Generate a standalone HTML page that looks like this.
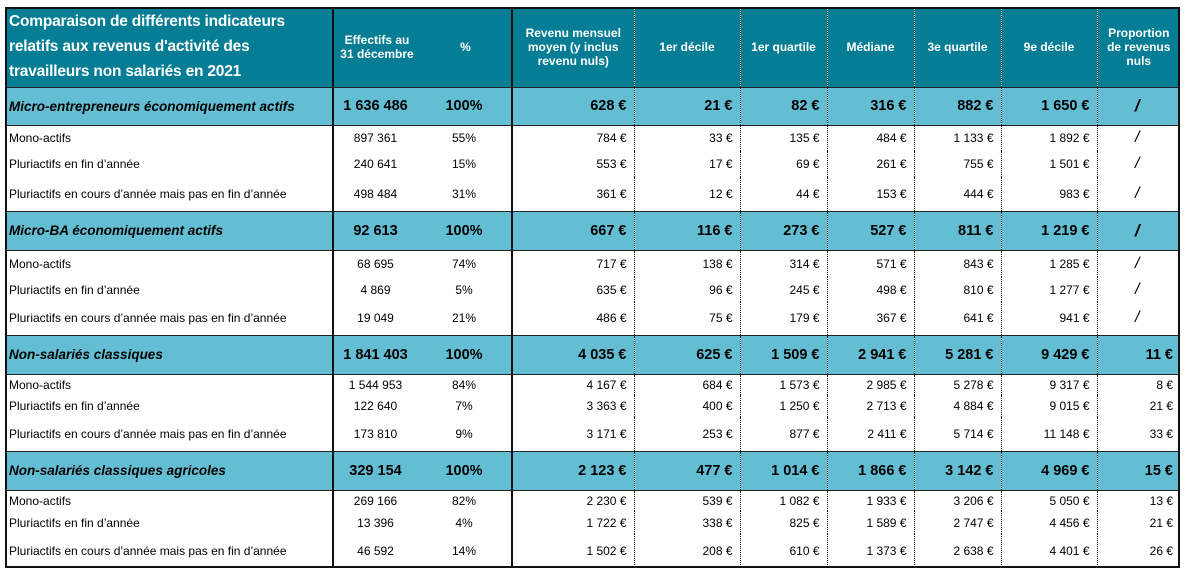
<!DOCTYPE html>
<html><head><meta charset="utf-8">
<style>
html,body{margin:0;padding:0;background:#fff;width:1186px;height:570px;overflow:hidden}
table{position:absolute;left:5px;top:7px;border-collapse:collapse;table-layout:fixed;width:1175px;font-family:"Liberation Sans",Arial,sans-serif;color:#000}
td{padding:0 7px 0 4px;font-size:12px;white-space:nowrap;overflow:hidden}
td.c{text-align:center}
td.r{text-align:right}
td.s{font-size:16px;font-style:italic}
.b1{border-right:2px solid #111}
.d{border-right:1px dotted #111}
tr.h td{background:#047d95;color:#fff;font-weight:bold;font-size:12px;line-height:14px;text-align:center;white-space:normal;padding:0 3px}
tr.h td.t{text-align:left;font-size:15.5px;line-height:25px;padding-left:4px;letter-spacing:-0.2px}
tr.g td{background:#64bed3;font-weight:bold;font-size:14.5px;border-top:1.5px solid #222;border-bottom:1.5px solid #222}
tr.g td.l{font-style:italic;font-size:13.5px}
tr.g td.s{font-size:17px}
</style></head><body>
<table>
<colgroup><col style="width:328px"><col style="width:87px"><col style="width:92px"><col style="width:122px"><col style="width:106px"><col style="width:87px"><col style="width:87px"><col style="width:87px"><col style="width:96px"><col style="width:83px"></colgroup>
<tr class="h" style="height:80px"><td class="t b1">Comparaison de différents indicateurs relatifs aux revenus d'activité des travailleurs non salariés en 2021</td><td>Effectifs au 31 décembre</td><td class="b1">%</td><td class="d">Revenu mensuel moyen (y inclus revenu nuls)</td><td class="d">1er décile</td><td class="d">1er quartile</td><td class="d">Médiane</td><td class="d">3e quartile</td><td class="d">9e décile</td><td>Proportion de revenus nuls</td></tr>

<tr class="g" style="height:38px"><td class="l b1">Micro-entrepreneurs économiquement actifs</td><td class="c">1 636 486</td><td class="c b1">100%</td><td class="r d">628 €</td><td class="r d">21 €</td><td class="r d">82 €</td><td class="r d">316 €</td><td class="r d">882 €</td><td class="r d">1 650 €</td><td class="c s">/</td></tr>
<tr style="height:26px"><td class="b1">Mono-actifs</td><td class="c">897 361</td><td class="c b1">55%</td><td class="r d">784 €</td><td class="r d">33 €</td><td class="r d">135 €</td><td class="r d">484 €</td><td class="r d">1 133 €</td><td class="r d">1 892 €</td><td class="c s">/</td></tr>
<tr style="height:26px"><td class="b1">Pluriactifs en fin d’année</td><td class="c">240 641</td><td class="c b1">15%</td><td class="r d">553 €</td><td class="r d">17 €</td><td class="r d">69 €</td><td class="r d">261 €</td><td class="r d">755 €</td><td class="r d">1 501 €</td><td class="c s">/</td></tr>
<tr style="height:34px"><td class="b1">Pluriactifs en cours d’année mais pas en fin d’année</td><td class="c">498 484</td><td class="c b1">31%</td><td class="r d">361 €</td><td class="r d">12 €</td><td class="r d">44 €</td><td class="r d">153 €</td><td class="r d">444 €</td><td class="r d">983 €</td><td class="c s">/</td></tr>

<tr class="g" style="height:39px"><td class="l b1">Micro-BA économiquement actifs</td><td class="c">92 613</td><td class="c b1">100%</td><td class="r d">667 €</td><td class="r d">116 €</td><td class="r d">273 €</td><td class="r d">527 €</td><td class="r d">811 €</td><td class="r d">1 219 €</td><td class="c s">/</td></tr>
<tr style="height:27px"><td class="b1">Mono-actifs</td><td class="c">68 695</td><td class="c b1">74%</td><td class="r d">717 €</td><td class="r d">138 €</td><td class="r d">314 €</td><td class="r d">571 €</td><td class="r d">843 €</td><td class="r d">1 285 €</td><td class="c s">/</td></tr>
<tr style="height:25px"><td class="b1">Pluriactifs en fin d’année</td><td class="c">4 869</td><td class="c b1">5%</td><td class="r d">635 €</td><td class="r d">96 €</td><td class="r d">245 €</td><td class="r d">498 €</td><td class="r d">810 €</td><td class="r d">1 277 €</td><td class="c s">/</td></tr>
<tr style="height:33px"><td class="b1">Pluriactifs en cours d’année mais pas en fin d’année</td><td class="c">19 049</td><td class="c b1">21%</td><td class="r d">486 €</td><td class="r d">75 €</td><td class="r d">179 €</td><td class="r d">367 €</td><td class="r d">641 €</td><td class="r d">941 €</td><td class="c s">/</td></tr>

<tr class="g" style="height:39px"><td class="l b1">Non-salariés classiques</td><td class="c">1 841 403</td><td class="c b1">100%</td><td class="r d">4 035 €</td><td class="r d">625 €</td><td class="r d">1 509 €</td><td class="r d">2 941 €</td><td class="r d">5 281 €</td><td class="r d">9 429 €</td><td class="r">11 €</td></tr>
<tr style="height:21px"><td class="b1">Mono-actifs</td><td class="c">1 544 953</td><td class="c b1">84%</td><td class="r d">4 167 €</td><td class="r d">684 €</td><td class="r d">1 573 €</td><td class="r d">2 985 €</td><td class="r d">5 278 €</td><td class="r d">9 317 €</td><td class="r">8 €</td></tr>
<tr style="height:22px"><td class="b1">Pluriactifs en fin d’année</td><td class="c">122 640</td><td class="c b1">7%</td><td class="r d">3 363 €</td><td class="r d">400 €</td><td class="r d">1 250 €</td><td class="r d">2 713 €</td><td class="r d">4 884 €</td><td class="r d">9 015 €</td><td class="r">21 €</td></tr>
<tr style="height:34px"><td class="b1">Pluriactifs en cours d’année mais pas en fin d’année</td><td class="c">173 810</td><td class="c b1">9%</td><td class="r d">3 171 €</td><td class="r d">253 €</td><td class="r d">877 €</td><td class="r d">2 411 €</td><td class="r d">5 714 €</td><td class="r d">11 148 €</td><td class="r">33 €</td></tr>

<tr class="g" style="height:39px"><td class="l b1">Non-salariés classiques agricoles</td><td class="c">329 154</td><td class="c b1">100%</td><td class="r d">2 123 €</td><td class="r d">477 €</td><td class="r d">1 014 €</td><td class="r d">1 866 €</td><td class="r d">3 142 €</td><td class="r d">4 969 €</td><td class="r">15 €</td></tr>
<tr style="height:21px"><td class="b1">Mono-actifs</td><td class="c">269 166</td><td class="c b1">82%</td><td class="r d">2 230 €</td><td class="r d">539 €</td><td class="r d">1 082 €</td><td class="r d">1 933 €</td><td class="r d">3 206 €</td><td class="r d">5 050 €</td><td class="r">13 €</td></tr>
<tr style="height:23px"><td class="b1">Pluriactifs en fin d’année</td><td class="c">13 396</td><td class="c b1">4%</td><td class="r d">1 722 €</td><td class="r d">338 €</td><td class="r d">825 €</td><td class="r d">1 589 €</td><td class="r d">2 747 €</td><td class="r d">4 456 €</td><td class="r">21 €</td></tr>
<tr style="height:33px"><td class="b1">Pluriactifs en cours d’année mais pas en fin d’année</td><td class="c">46 592</td><td class="c b1">14%</td><td class="r d">1 502 €</td><td class="r d">208 €</td><td class="r d">610 €</td><td class="r d">1 373 €</td><td class="r d">2 638 €</td><td class="r d">4 401 €</td><td class="r">26 €</td></tr>
</table>
<div style="position:absolute;left:5px;top:7px;width:1171px;height:557px;border:2px solid #111;pointer-events:none"></div>
</body></html>
